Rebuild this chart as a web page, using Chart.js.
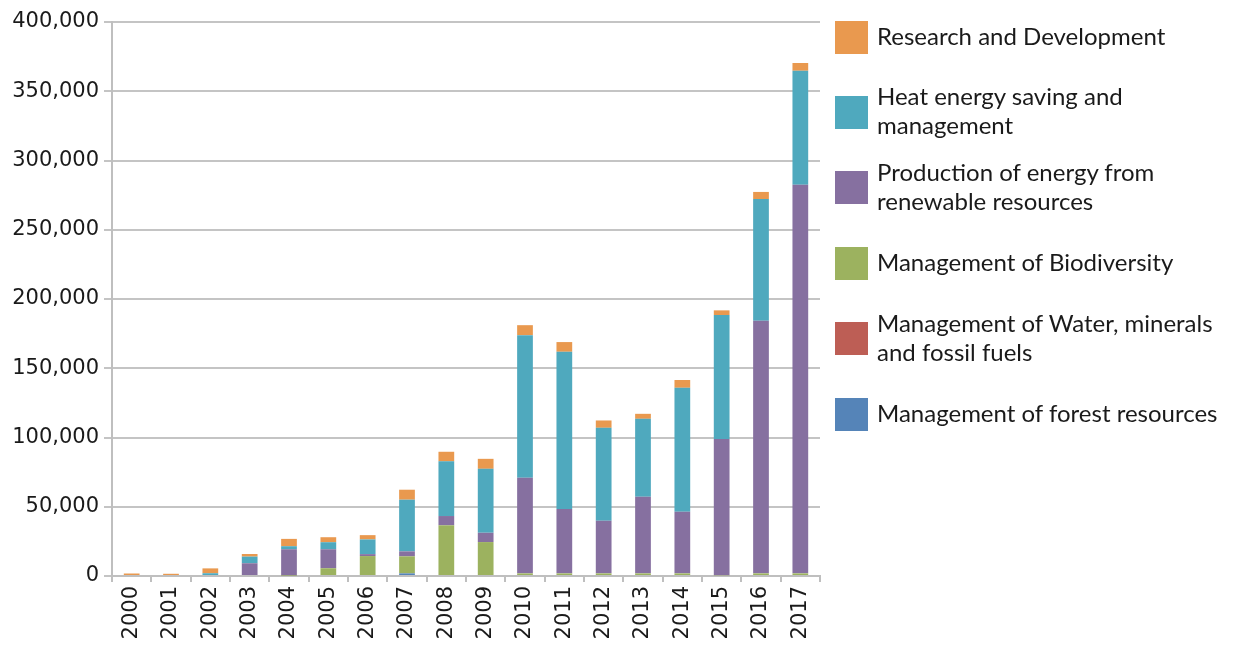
<!DOCTYPE html>
<html><head><meta charset="utf-8">
<script src="https://cdn.jsdelivr.net/npm/chart.js@4.4.0/dist/chart.umd.min.js"></script>
<style>
html,body{margin:0;padding:0;background:#fff;}
#wrap{position:relative;width:1235px;height:645px;overflow:hidden;}
#legend{position:absolute;left:835px;top:0;width:400px;height:645px;font-family:Lato,sans-serif;font-size:24px;color:#1a1a1a;}
.sw{position:absolute;left:0;width:33px;height:33px;}
.txt{position:absolute;left:42px;line-height:29px;white-space:nowrap;}
</style></head>
<body><div id="wrap"><canvas id="c" width="1235" height="645"></canvas><div id="legend"></div></div>
<script>
const years = ['2000','2001','2002','2003','2004','2005','2006','2007','2008','2009','2010','2011','2012','2013','2014','2015','2016','2017'];
const forest       = [0,0,0,0,0,0,0,1900,0,0,0,0,0,0,0,0,0,0];
const water        = [0,0,0,0,0,0,0,0,0,0,0,0,0,0,0,0,0,0];
const biodiversity = [0,0,0,0,300,5600,14400,12300,36600,24500,1900,1900,1900,1900,1900,500,1900,1900];
const production   = [0,0,0,9200,19000,13700,1400,3600,6700,6700,69000,46400,38000,55300,44500,98400,182400,280600];
const heat         = [0,0,2000,4800,2200,5100,10600,37300,39500,46200,103000,113600,67100,56300,89500,89500,87900,82300];
const research     = [1800,1600,3500,1900,5300,3600,3100,7200,6900,7200,7200,7000,5300,3600,5600,3400,5100,5600];
const yTicks = [0,50000,100000,150000,200000,250000,300000,350000,400000];

const seriesNames = ['Management of forest resources','Management of Water, minerals and fossil fuels','Management of Biodiversity','Production of energy from renewable resources','Heat energy saving and management','Research and Development'];
const legendLines = [['Management of forest resources'],['Management of Water, minerals','and fossil fuels'],['Management of Biodiversity'],['Production of energy from','renewable resources'],['Heat energy saving and','management'],['Research and Development']];
const colors = ['#5584B8','#BD5E55','#9CB25F','#8670A0','#4FA9BE','#E9994F'];
const seriesData = [forest, water, biodiversity, production, heat, research];

const datasets = seriesData.map((d,i)=>({
  label: seriesNames[i], data: d, backgroundColor: colors[i], borderWidth: 0,
  categoryPercentage: 1.0, barPercentage: 0.4
}));

const tickFont = {family:'DejaVu Sans', size:21};
new Chart(document.getElementById('c'), {
  type:'bar',
  data:{labels:years, datasets},
  options:{
    responsive:false, animation:false,
    layout:{padding:{left:0,right:415,top:22,bottom:0}},
    plugins:{legend:{display:false}, tooltip:{enabled:false}},
    scales:{
      x:{stacked:true,
        grid:{display:true, drawOnChartArea:false, drawTicks:true, tickLength:6, color:'#BFBFBF', lineWidth:2, offset:true},
        border:{display:true, color:'#BFBFBF', width:2},
        ticks:{font:tickFont, color:'#1a1a1a', minRotation:90, maxRotation:90, padding:4, autoSkip:false},
        afterFit(s){ s.height = 69; }
      },
      y:{stacked:true, min:0, max:400000,
        afterBuildTicks(s){ s.ticks = yTicks.map(v=>({value:v})); },
        ticks:{font:tickFont, color:'#1a1a1a', padding:5, callback:v=>v.toLocaleString('en-US')},
        grid:{color:'#C4C4C4', lineWidth:2, tickLength:8, drawTicks:true},
        border:{display:true, color:'#BFBFBF', width:2},
        afterFit(s){ s.width = 112; }
      }
    }
  }
});

const leg = document.getElementById('legend');
for (let k=0;k<6;k++){
  const i = 5-k;
  const cy = 37 + k*75.4;
  const sw = document.createElement('div');
  sw.className='sw'; sw.style.background=colors[i]; sw.style.top=(cy-16.5)+'px';
  leg.appendChild(sw);
  const t = document.createElement('div');
  t.className='txt';
  t.innerHTML = legendLines[i].join('<br>');
  t.style.top = (cy - 2 - legendLines[i].length*29/2)+'px';
  leg.appendChild(t);
}
</script>
</body></html>
